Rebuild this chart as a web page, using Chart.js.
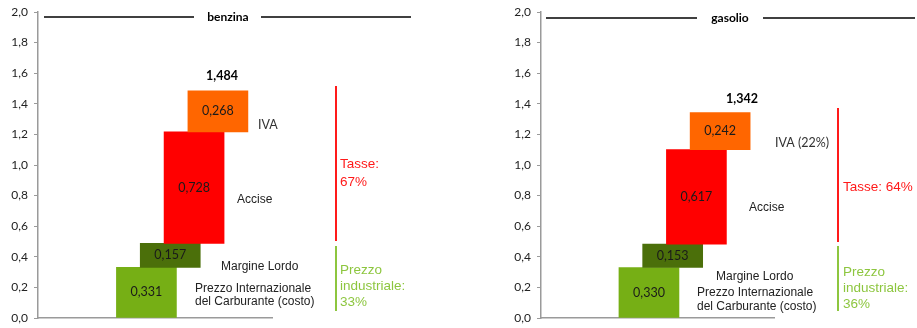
<!DOCTYPE html>
<html>
<head>
<meta charset="utf-8">
<script src="https://cdn.jsdelivr.net/npm/chart.js@4/dist/chart.umd.min.js"></script>
<style>
  body { margin: 0; background: #fff; }
  .wrap { position: relative; width: 917px; height: 328px; }
  canvas { position: absolute; top: 0; }
</style>
</head>
<body>
<div class="wrap">
  <canvas id="benzina_chart" width="500" height="328" style="left:0"></canvas>
  <canvas id="gasolio_chart" width="414" height="328" style="left:503px"></canvas>
</div>
<script>
// componenti del prezzo, dal basso verso l'alto
const steps = ["Prezzo Internazionale del Carburante (costo)", "Margine Lordo", "Accise", "IVA"];
const benzinaValues = [0.331, 0.157, 0.728, 0.268];
const gasolioValues = [0.330, 0.153, 0.617, 0.242];
const benzinaTotal = "1,484";
const gasolioTotal = "1,342";
const yTicks = [0, 0.2, 0.4, 0.6, 0.8, 1.0, 1.2, 1.4, 1.6, 1.8, 2.0];
const barColors = ["#76AF15", "#4B6F0A", "#FF0000", "#FF6600"];

const calibri = "Lato, 'Open Sans', sans-serif";
const arial = "'Liberation Sans', Arial, sans-serif";

const fmt = (v, d) => v.toFixed(d).replace(".", ",");

// stacked waterfall: each step starts where the previous ended
const prepareData = (values) => {
    let base = 0;
    return values.map((v, i) => {
        const item = { x: i, y: [base, base + v] };
        base += v;
        return item;
    });
};

// extra drawing: value labels, side captions, brackets, title
const notesPlugin = {
    id: "notes",
    afterDatasetsDraw(chart, args, opts) {
        const ctx = chart.ctx;
        const off = opts.offset;
        ctx.save();
        // value inside each bar
        const meta = chart.getDatasetMeta(0);
        meta.data.forEach((bar, i) => {
            ctx.font = "12.5px " + calibri;
            ctx.fillStyle = "#1a1a1a";
            ctx.textAlign = "center";
            ctx.textBaseline = "middle";
            ctx.fillText(fmt(opts.values[i], 3), bar.x, (bar.y + bar.base) / 2);
        });
        // title with lines
        ctx.strokeStyle = "#000";
        ctx.lineWidth = 1.5;
        opts.title.lines.forEach(l => {
            ctx.beginPath();
            ctx.moveTo(l[0] - off, opts.title.y);
            ctx.lineTo(l[1] - off, opts.title.y);
            ctx.stroke();
        });
        ctx.font = "bold 12px " + calibri;
        ctx.fillStyle = "#000";
        ctx.textAlign = "center";
        ctx.fillText(opts.title.text, opts.title.x - off, opts.title.y);
        // total
        ctx.font = "bold 12.5px " + calibri;
        ctx.fillText(opts.total.text, opts.total.x - off, opts.total.y);
        // captions
        ctx.textAlign = "left";
        opts.captions.forEach(c => {
            ctx.font = c.font;
            ctx.fillStyle = c.color;
            ctx.fillText(c.text, c.x - off, c.y);
        });
        // brackets
        ctx.lineWidth = 2;
        opts.brackets.forEach(b => {
            ctx.strokeStyle = b.color;
            ctx.beginPath();
            ctx.moveTo(b.x - off, b.y0);
            ctx.lineTo(b.x - off, b.y1);
            ctx.stroke();
        });
        ctx.restore();
    }
};

const createChart = (id, values, notes, padRight) => {
    const ctx = document.getElementById(id);
    return new Chart(ctx, {
        type: "bar",
        data: {
            labels: steps,
            datasets: [{
                data: prepareData(values),
                backgroundColor: barColors,
                barThickness: 60,
                borderWidth: 0,
            }],
        },
        plugins: [notesPlugin],
        options: {
            responsive: false,
            animation: false,
            devicePixelRatio: 1,
            layout: { padding: { top: 12, bottom: 10, left: 0, right: padRight } },
            scales: {
                x: {
                    type: "linear",
                    offset: false,
                    min: -4.55,
                    max: 5.27,
                    ticks: { display: false },
                    grid: { display: false },
                    border: { display: true, color: "#9a9a9a", width: 1.5 },
                    afterFit: (s) => { s.height = 0; s.paddingLeft = 0; s.paddingRight = 0; },
                },
                y: {
                    min: 0,
                    max: 2,
                    afterBuildTicks: (s) => { s.ticks = yTicks.map(v => ({ value: v })); },
                    ticks: {
                        callback: (v) => fmt(v, 1),
                        font: { family: calibri, size: 12 },
                        color: "#222",
                        padding: 6,
                    },
                    grid: { drawOnChartArea: false, drawTicks: true, tickLength: 4, color: "#9a9a9a" },
                    border: { display: true, color: "#9a9a9a", width: 1.5 },
                    afterFit: (s) => { s.width = 38; s.paddingTop = 0; s.paddingBottom = 0; },
                },
            },
            plugins: {
                legend: { display: false },
                tooltip: { enabled: false },
                notes: notes,
            },
        },
    });
};

const capFont = "12px " + arial;
const bigFont = "13.5px " + arial;
const red = "#FF1A1A";
const green = "#8DC63F";

createChart("benzina_chart", benzinaValues, {
    offset: 0,
    values: benzinaValues,
    title: { text: "benzina", x: 228, y: 17, lines: [[44, 194], [261, 411]] },
    total: { text: benzinaTotal, x: 222, y: 76 },
    captions: [
        { text: "IVA", x: 258, y: 125, font: "12.5px " + calibri, color: "#333" },
        { text: "Accise", x: 237, y: 200, font: capFont, color: "#222" },
        { text: "Margine Lordo", x: 221, y: 267, font: capFont, color: "#222" },
        { text: "Prezzo Internazionale", x: 195, y: 289, font: capFont, color: "#222" },
        { text: "del Carburante (costo)", x: 195, y: 302, font: capFont, color: "#222" },
        { text: "Tasse:", x: 340, y: 164, font: bigFont, color: red },
        { text: "67%", x: 340, y: 182, font: bigFont, color: red },
        { text: "Prezzo", x: 340, y: 270, font: bigFont, color: green },
        { text: "industriale:", x: 340, y: 286, font: bigFont, color: green },
        { text: "33%", x: 340, y: 302, font: bigFont, color: green },
    ],
    brackets: [
        { x: 336, y0: 86, y1: 241, color: red },
        { x: 336, y0: 246, y1: 311, color: green },
    ],
}, 228);

createChart("gasolio_chart", gasolioValues, {
    offset: 503,
    values: gasolioValues,
    title: { text: "gasolio", x: 730, y: 18, lines: [[546, 697], [763, 915]] },
    total: { text: gasolioTotal, x: 742, y: 99 },
    captions: [
        { text: "IVA (22%)", x: 775, y: 143, font: "12.5px " + calibri, color: "#333" },
        { text: "Accise", x: 749, y: 208, font: capFont, color: "#222" },
        { text: "Margine Lordo", x: 716, y: 277, font: capFont, color: "#222" },
        { text: "Prezzo Internazionale", x: 697, y: 293, font: capFont, color: "#222" },
        { text: "del Carburante (costo)", x: 697, y: 307, font: capFont, color: "#222" },
        { text: "Tasse: 64%", x: 843, y: 187, font: bigFont, color: red },
        { text: "Prezzo", x: 843, y: 272, font: bigFont, color: green },
        { text: "industriale:", x: 843, y: 288, font: bigFont, color: green },
        { text: "36%", x: 843, y: 304, font: bigFont, color: green },
    ],
    brackets: [
        { x: 838, y0: 108, y1: 242, color: red },
        { x: 838, y0: 246, y1: 311, color: green },
    ],
}, 143);
</script>
</body>
</html>
